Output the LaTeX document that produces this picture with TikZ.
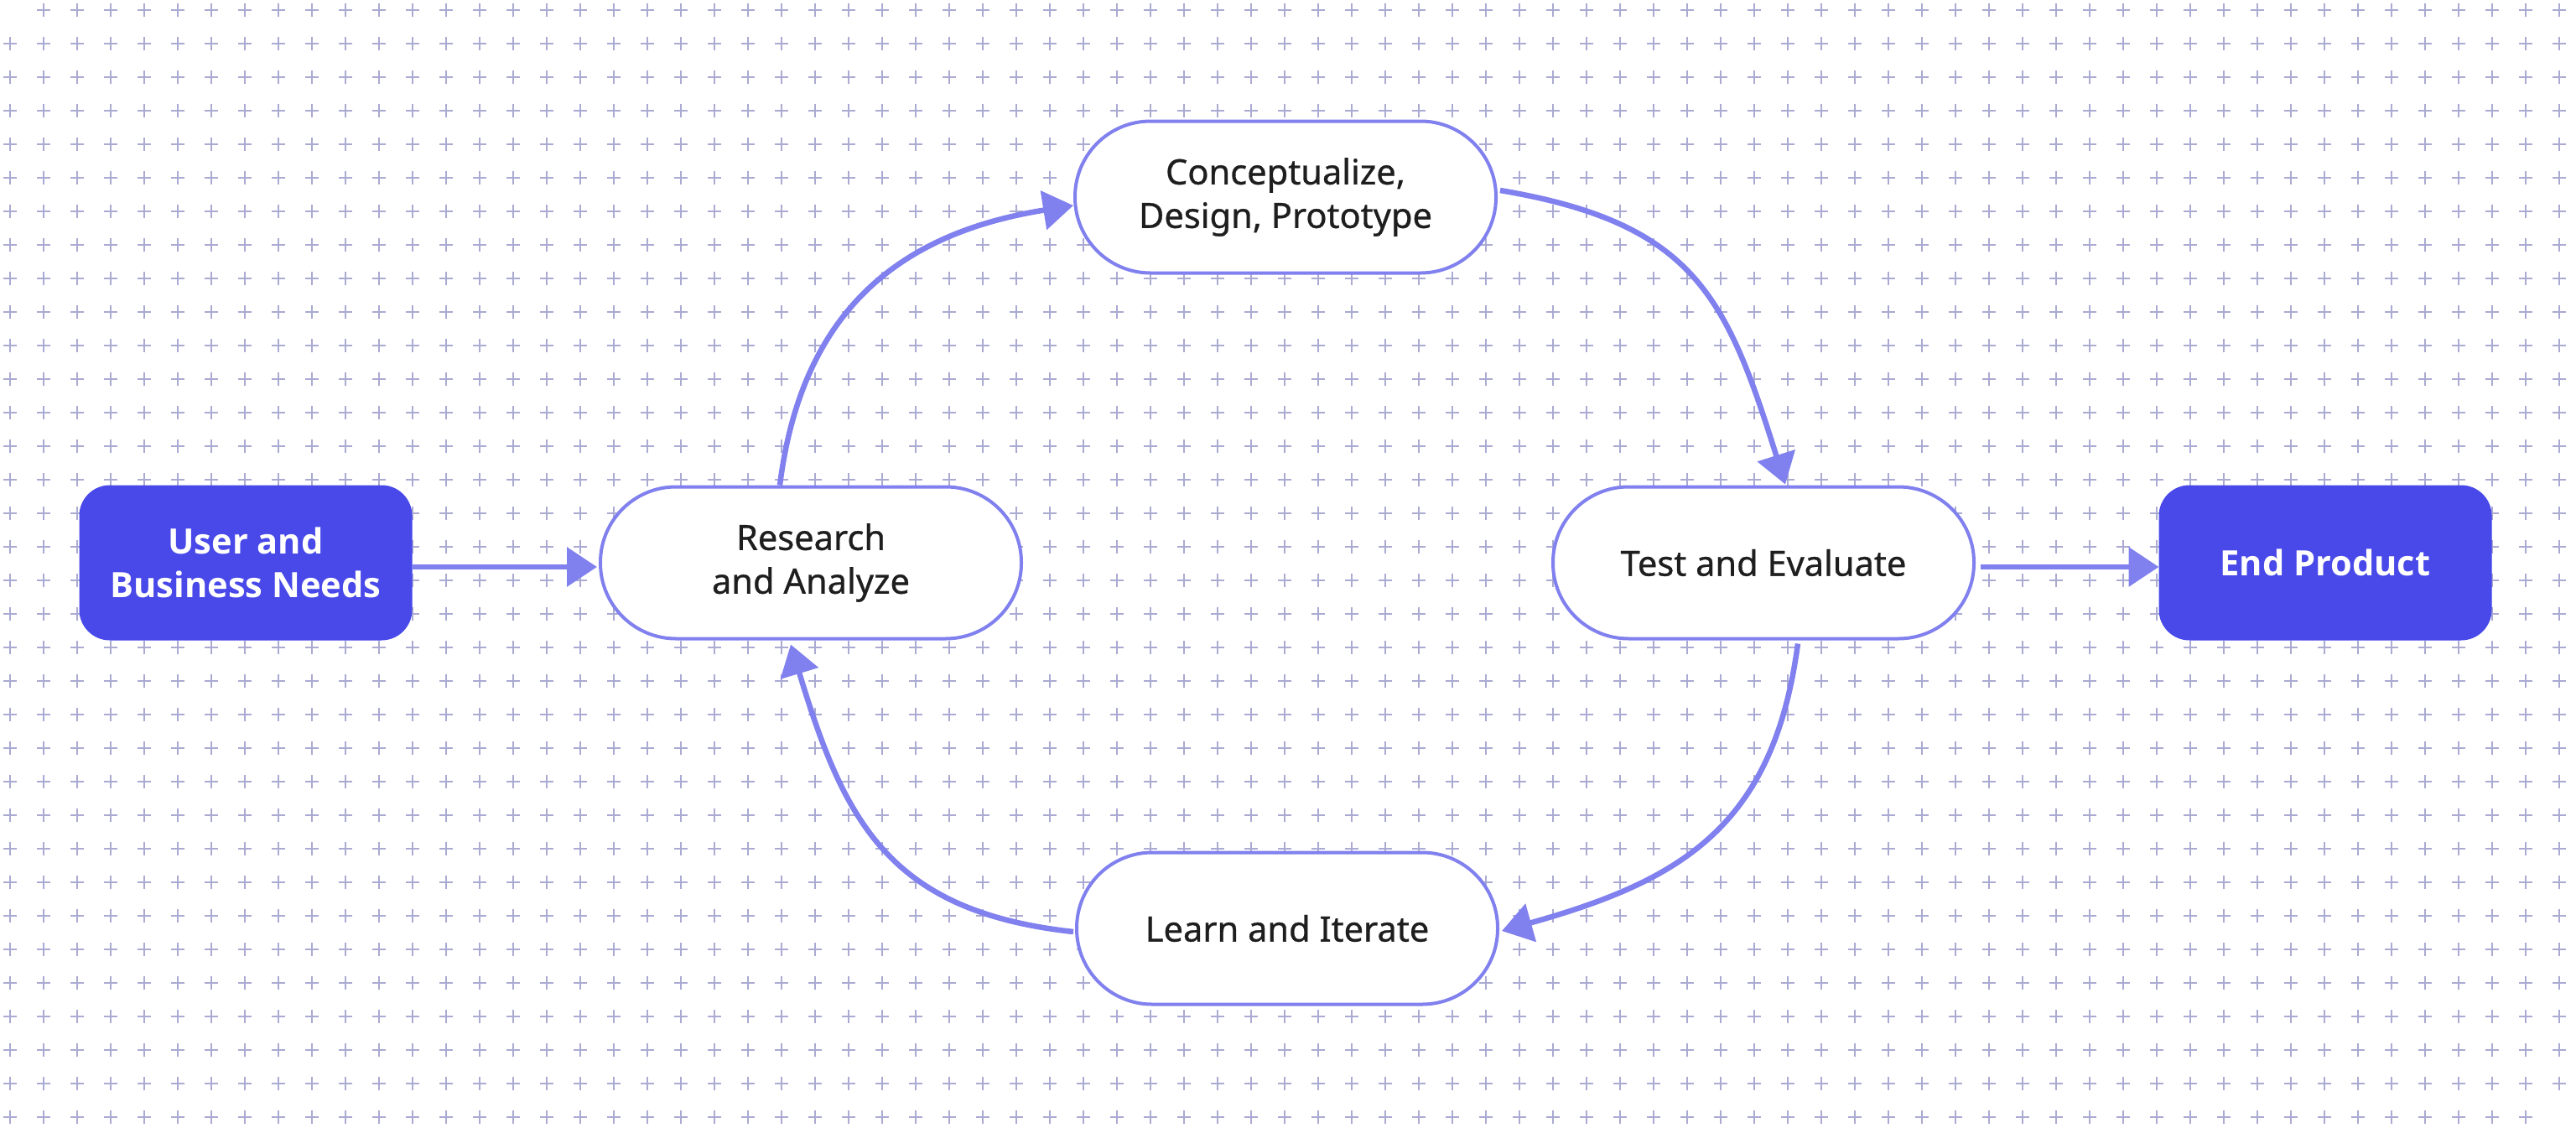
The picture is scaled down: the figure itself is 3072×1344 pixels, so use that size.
\documentclass[tikz,border=0pt]{standalone}
\usepackage{fontspec}
\setmainfont{Noto Sans}
\newfontfamily\stageface{Noto Sans}[FakeBold=0.7]
\newfontfamily\goalface{Open Sans}
\usetikzlibrary{arrows.meta,calc}

\definecolor{edgecol}{HTML}{8080EE}
\definecolor{goalcol}{HTML}{4849E8}
\definecolor{crosscol}{HTML}{AAAAD2}
\definecolor{inkcol}{HTML}{1E1E1E}

\newcommand{\stagefont}{\stageface\fontsize{20.8pt}{26pt}\selectfont}
\newcommand{\goalfont}{\goalface\fontsize{20.8pt}{26pt}\selectfont\bfseries}

\begin{document}
\begin{tikzpicture}[
  x=0.5pt, y=-0.5pt,
  stage/.style={draw=edgecol, line width=2pt, fill=white, rounded corners=45pt,
    minimum width=251pt, minimum height=90.5pt, inner sep=0pt, align=center,
    text=inkcol, font=\stagefont},
  goal/.style={draw=goalcol, fill=goalcol, line width=0.5pt, rounded corners=18pt,
    minimum width=198pt, minimum height=92pt, inner sep=0pt, align=center,
    text=white, font=\goalfont},
  flow/.style={draw=edgecol, line width=3.25pt,
    -{Triangle[length=18pt,width=23pt]}},
  gridcross/.style={draw=crosscol, line width=1pt}
]
\useasboundingbox (0,0) rectangle (3072,1344);
\fill[white] (0,0) rectangle (3072,1344);

% background grid of small crosses
\draw[gridcross] \foreach \i in {1,...,75}{ \foreach \j in {0,...,33}{
  ({40*\i+4},{40*\j+12}) -- ++(16,0) ({40*\i+12},{40*\j+4}) -- ++(0,16) } };
\draw[gridcross] \foreach \j in {1,...,33}{
  (4,{40*\j+12}) -- ++(16,0) (12,{40*\j+4}) -- ++(0,16) };
\draw[gridcross] \foreach \j in {0,...,32}{
  (3044,{40*\j+12}) -- ++(16,0) (3052,{40*\j+4}) -- ++(0,16) };

% nodes
\node[goal]  (U) at (293,671)  {User and\\Business Needs};
\node[stage] (R) at (967,671)  {Research\\and Analyze};
\node[stage] (C) at (1533,235) {Conceptualize,\\Design, Prototype};
\node[stage] (T) at (2103,671) {Test and Evaluate};
\node[stage] (L) at (1535,1107) {Learn and Iterate};
\node[goal]  (E) at (2773,671) {End Product};

% straight connectors
\draw[flow] ($(U.east)+(0,5)$) -- ($(R.west)+(-2,5)$);
\draw[flow] ($(T.east)+(6,5)$) -- ($(E.west)+(0,5)$);

% the cycle
\draw[flow] ($(R.north)+(-37,0)$) .. controls ($(R.north)+(-11,-208)$) and ($(C.west)+(-207,43)$) .. ($(C.west)+(0,10)$);
\draw[flow] ($(C.east)+(3,-8)$) .. controls ($(C.east)+(235,31)$) and ($(T.north)+(-44,-224)$) .. ($(T.north)+(26,-1)$);
\draw[flow] ($(T.south)+(41,4)$) .. controls ($(T.south)+(12,222)$) and ($(L.east)+(217,-57)$) .. ($(L.east)+(3,3)$);
\draw[flow] ($(L.west)+(-2,4)$) .. controls ($(L.west)+(-221,-20)$) and ($(R.south)+(40,217)$) .. ($(R.south)+(-24,5)$);
\end{tikzpicture}
\end{document}
